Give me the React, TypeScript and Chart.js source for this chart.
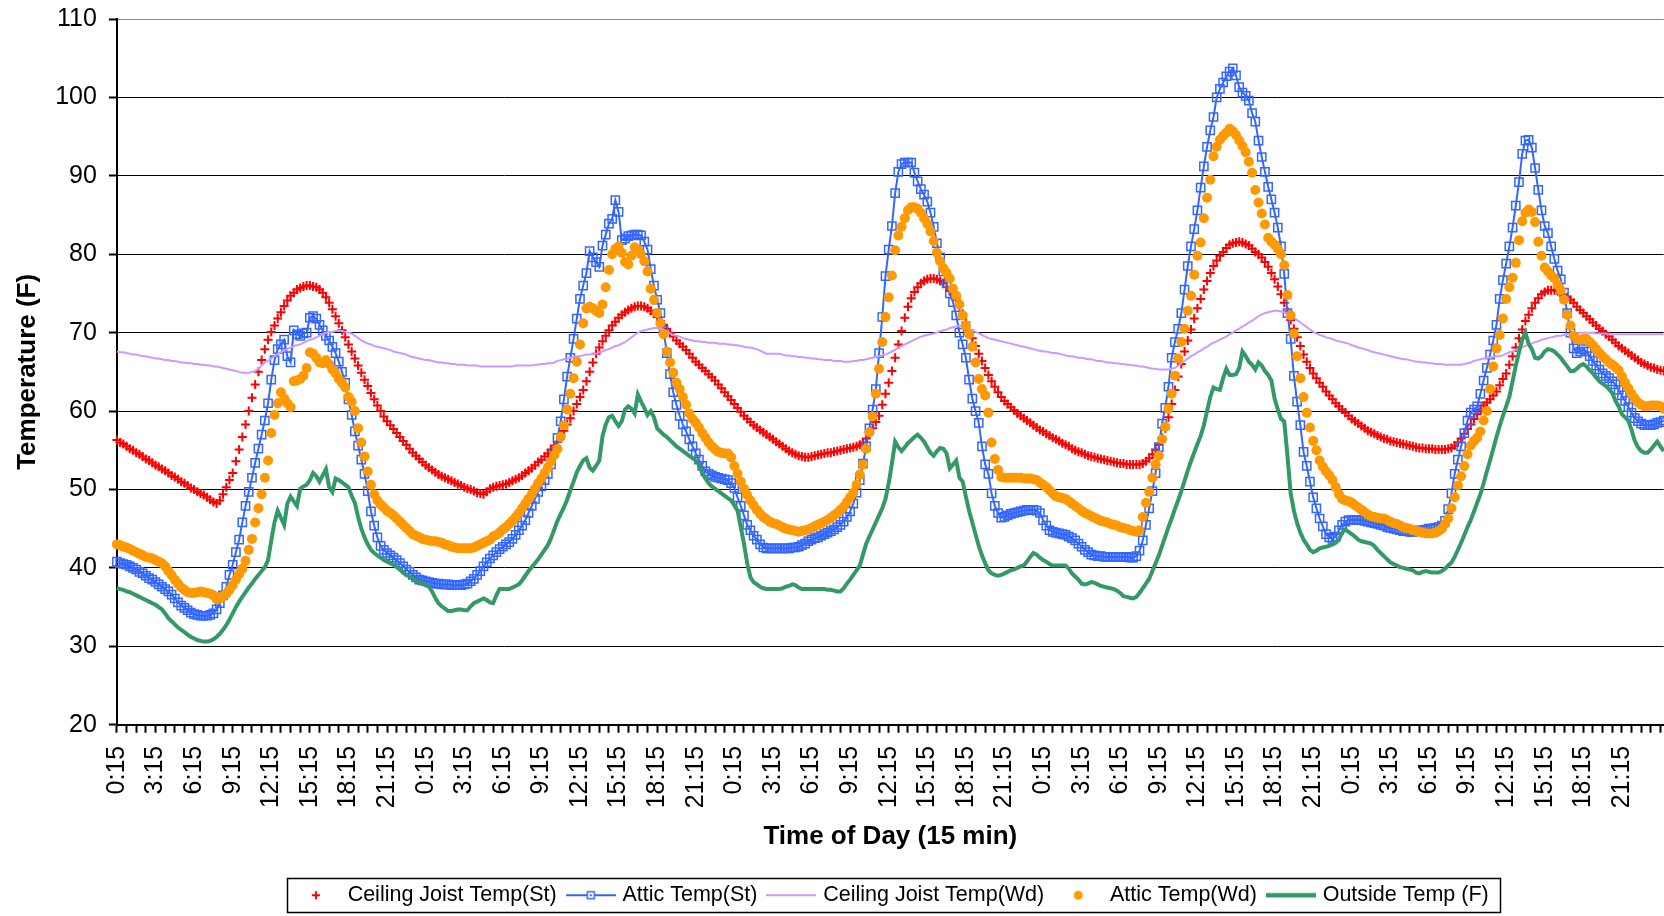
import React, { useEffect, useRef } from "react";
import { Chart, registerables } from "chart.js";

Chart.register(...registerables);

const FONT = "'Liberation Sans', Arial, Helvetica, sans-serif";

const SERIES_NAMES = [
  "Ceiling Joist Temp(St)",
  "Attic Temp(St)",
  "Ceiling Joist Temp(Wd)",
  "Attic Temp(Wd)",
  "Outside Temp (F)",
];

const TICK_LABELS = [
  "0:15", "3:15", "6:15", "9:15", "12:15", "15:15", "18:15", "21:15",
  "0:15", "3:15", "6:15", "9:15", "12:15", "15:15", "18:15", "21:15",
  "0:15", "3:15", "6:15", "9:15", "12:15", "15:15", "18:15", "21:15",
  "0:15", "3:15", "6:15", "9:15", "12:15", "15:15", "18:15", "21:15",
  "0:15", "3:15", "6:15", "9:15", "12:15", "15:15", "18:15", "21:15",
];

const CEILING_JOIST_ST = [
  56.3, 56.0, 55.8, 55.5, 55.2, 55.0, 54.7, 54.5, 54.2, 53.9, 53.7, 53.4,
  53.1, 52.9, 52.6, 52.4, 52.1, 51.8, 51.6, 51.3, 51.0, 50.8, 50.5, 50.2,
  50.0, 49.7, 49.5, 49.3, 49.0, 48.7, 48.4, 48.2, 48.6, 49.4, 50.3, 51.2,
  52.1, 53.6, 55.1, 56.7, 58.3, 60.0, 61.7, 63.4, 65.0, 66.5, 67.9, 69.1,
  70.1, 70.9, 71.8, 72.6, 73.4, 74.1, 74.7, 75.1, 75.5, 75.7, 75.9, 76.0,
  76.0, 75.9, 75.8, 75.5, 75.1, 74.5, 73.8, 73.0, 72.1, 71.2, 70.3, 69.4,
  68.5, 67.6, 66.7, 65.8, 64.9, 64.0, 63.2, 62.3, 61.5, 60.7, 60.0, 59.3,
  58.7, 58.2, 57.7, 57.2, 56.7, 56.2, 55.7, 55.2, 54.7, 54.3, 53.9, 53.5,
  53.1, 52.8, 52.5, 52.2, 51.9, 51.7, 51.5, 51.3, 51.1, 50.9, 50.7, 50.5,
  50.3, 50.1, 50.0, 49.8, 49.6, 49.5, 49.4, 49.7, 50.1, 50.3, 50.4, 50.5,
  50.6, 50.7, 50.9, 51.1, 51.3, 51.5, 51.8, 52.1, 52.4, 52.7, 53.1, 53.5,
  53.8, 54.2, 54.6, 55.1, 55.6, 56.1, 56.8, 57.5, 58.3, 59.1, 60.0, 60.9,
  61.8, 62.7, 63.8, 65.0, 66.2, 67.3, 68.1, 68.9, 69.6, 70.3, 70.9, 71.4,
  71.9, 72.3, 72.6, 72.9, 73.1, 73.3, 73.4, 73.4, 73.3, 73.1, 72.8, 72.4,
  72.0, 71.5, 71.0, 70.5, 70.0, 69.5, 69.0, 68.6, 68.2, 67.8, 67.3, 66.8,
  66.3, 65.9, 65.5, 65.1, 64.7, 64.3, 63.9, 63.4, 62.9, 62.4, 61.9, 61.4,
  60.9, 60.4, 59.9, 59.4, 59.0, 58.6, 58.2, 57.9, 57.6, 57.3, 57.0, 56.7,
  56.4, 56.1, 55.8, 55.5, 55.2, 54.9, 54.7, 54.5, 54.3, 54.2, 54.1, 54.1,
  54.2, 54.3, 54.4, 54.5, 54.6, 54.7, 54.7, 54.8, 54.9, 55.0, 55.1, 55.2,
  55.3, 55.4, 55.5, 55.7, 56.0, 56.5, 57.1, 57.8, 58.6, 59.4, 60.8, 62.2,
  63.6, 65.1, 66.8, 68.5, 70.2, 71.9, 73.3, 74.4, 75.2, 75.8, 76.3, 76.6,
  76.8, 76.9, 76.9, 76.8, 76.6, 76.3, 75.8, 75.3, 74.9, 74.2, 73.4, 72.4,
  71.3, 70.3, 69.3, 68.3, 67.3, 66.4, 65.5, 64.6, 63.8, 63.1, 62.4, 61.8,
  61.3, 60.9, 60.5, 60.1, 59.7, 59.4, 59.1, 58.8, 58.5, 58.2, 57.9, 57.6,
  57.4, 57.1, 56.9, 56.6, 56.4, 56.2, 55.9, 55.7, 55.5, 55.2, 55.0, 54.8,
  54.7, 54.5, 54.3, 54.2, 54.1, 54.0, 53.9, 53.8, 53.7, 53.6, 53.5, 53.4,
  53.3, 53.3, 53.2, 53.2, 53.2, 53.2, 53.2, 53.3, 53.6, 54.0, 54.5, 55.1,
  55.7, 56.6, 57.8, 59.2, 60.9, 62.7, 64.4, 66.0, 67.6, 69.0, 70.4, 71.8,
  73.1, 74.3, 75.5, 76.6, 77.6, 78.5, 79.2, 79.8, 80.3, 80.8, 81.2, 81.4,
  81.5, 81.6, 81.5, 81.3, 81.1, 80.7, 80.3, 80.0, 79.6, 79.0, 78.4, 77.6,
  76.8, 75.9, 74.9, 73.8, 72.7, 71.6, 70.5, 69.4, 68.3, 67.2, 66.3, 65.5,
  64.8, 64.2, 63.6, 63.1, 62.5, 62.0, 61.5, 61.0, 60.6, 60.2, 59.8, 59.4,
  59.0, 58.7, 58.4, 58.1, 57.8, 57.5, 57.3, 57.1, 56.9, 56.7, 56.5, 56.4,
  56.2, 56.1, 56.0, 55.9, 55.8, 55.7, 55.6, 55.5, 55.4, 55.3, 55.3, 55.2,
  55.2, 55.2, 55.1, 55.1, 55.1, 55.1, 55.2, 55.3, 55.6, 56.0, 56.5, 57.1,
  57.7, 58.3, 59.0, 59.6, 60.2, 60.7, 61.1, 61.5, 62.0, 62.5, 63.3, 64.1,
  64.8, 65.9, 67.0, 68.1, 69.3, 70.4, 71.5, 72.3, 73.1, 73.8, 74.4, 74.9,
  75.2, 75.4, 75.4, 75.4, 75.3, 75.1, 74.8, 74.5, 74.2, 73.8, 73.3, 72.9,
  72.5, 72.1, 71.7, 71.3, 70.9, 70.5, 70.2, 69.8, 69.5, 69.1, 68.7, 68.3,
  68.0, 67.7, 67.4, 67.1, 66.8, 66.5, 66.2, 66.0, 65.8, 65.6, 65.5, 65.3,
  65.2, 65.1,
];

const ATTIC_ST = [
  40.8, 40.6, 40.5, 40.4, 40.2, 40.0, 39.8, 39.5, 39.3, 39.0, 38.7, 38.5,
  38.2, 37.9, 37.6, 37.3, 37.0, 36.6, 36.1, 35.6, 35.2, 34.9, 34.6, 34.3,
  34.1, 34.0, 33.9, 33.9, 33.9, 34.0, 34.2, 34.7, 35.5, 36.5, 37.6, 39.1,
  40.4, 42.0, 43.6, 45.8, 47.9, 49.7, 51.5, 53.4, 55.2, 57.0, 58.8, 61.0,
  64.0, 66.5, 67.9, 68.5, 69.1, 67.0, 66.2, 70.3, 69.8, 69.6, 69.9, 70.0,
  71.9, 72.1, 71.8, 71.0, 70.3, 69.6, 69.0, 68.2, 67.4, 66.3, 65.0, 63.6,
  61.5, 59.5, 57.4, 55.6, 53.8, 52.0, 49.8, 47.2, 45.4, 43.9, 42.8, 42.3,
  41.9, 41.6, 41.3, 41.0, 40.6, 40.2, 39.8, 39.5, 39.1, 38.8, 38.5, 38.4,
  38.3, 38.2, 38.1, 38.0, 38.0, 37.9, 37.9, 37.9, 37.8, 37.8, 37.8, 37.8,
  37.9, 38.0, 38.3, 38.6, 39.1, 39.6, 40.2, 40.7, 41.2, 41.6, 42.0, 42.4,
  42.7, 43.0, 43.3, 43.7, 44.2, 44.8, 45.4, 46.1, 47.0, 47.9, 48.8, 49.7,
  50.4, 51.2, 52.0, 53.2, 54.8, 56.6, 58.7, 61.5, 64.4, 66.8, 69.2, 71.8,
  74.3, 76.0, 77.6, 80.4, 79.6, 79.0, 78.4, 81.1, 82.5, 83.9, 84.5, 86.9,
  85.4, 81.8, 82.0, 82.3, 82.4, 82.5, 82.5, 82.4, 81.6, 80.6, 78.1, 76.0,
  74.2, 72.5, 70.3, 67.4, 64.7, 62.4, 60.8, 59.4, 58.3, 57.4, 56.4, 55.5,
  54.6, 53.8, 53.0, 52.3, 52.0, 51.8, 51.6, 51.5, 51.4, 51.3, 51.2, 50.8,
  50.2, 49.0, 47.9, 46.7, 45.5, 44.8, 44.1, 43.6, 43.0, 42.6, 42.5, 42.5,
  42.5, 42.5, 42.5, 42.5, 42.5, 42.5, 42.6, 42.6, 42.7, 42.9, 43.1, 43.4,
  43.6, 43.8, 43.9, 44.1, 44.3, 44.5, 44.7, 44.9, 45.2, 45.5, 45.9, 46.5,
  47.2, 48.2, 49.6, 51.2, 53.3, 55.5, 57.8, 60.2, 62.8, 67.4, 72.0, 77.2,
  80.6, 83.6, 87.8, 90.5, 91.5, 91.7, 91.7, 91.7, 90.4, 89.3, 88.3, 87.6,
  86.7, 85.3, 83.5, 81.4, 79.6, 77.8, 76.3, 75.0, 73.9, 72.2, 70.0, 68.5,
  66.8, 64.0, 61.6, 60.0, 58.5, 55.5, 53.2, 52.0, 49.5, 47.9, 47.0, 46.4,
  46.5, 46.7, 46.9, 47.0, 47.1, 47.2, 47.3, 47.4, 47.4, 47.4, 47.3, 47.0,
  46.1, 45.4, 44.8, 44.6, 44.5, 44.4, 44.3, 44.2, 44.0, 43.8, 43.5, 43.1,
  42.7, 42.3, 42.0, 41.7, 41.6, 41.5, 41.5, 41.4, 41.4, 41.4, 41.4, 41.4,
  41.4, 41.4, 41.4, 41.3, 41.3, 41.5, 42.2, 43.5, 45.5, 47.6, 49.8, 52.1,
  55.4, 58.4, 60.4, 63.1, 66.8, 68.8, 70.5, 72.5, 75.5, 78.5, 81.0, 83.2,
  85.6, 88.5, 91.2, 93.7, 95.8, 97.5, 100.0, 101.1, 101.9, 102.7, 103.3, 103.7,
  102.8, 101.3, 100.6, 100.2, 99.6, 98.0, 96.9, 94.5, 92.4, 90.5, 88.6, 87.0,
  85.3, 83.4, 81.0, 77.5, 72.5, 69.2, 64.5, 61.2, 58.2, 54.8, 53.0, 51.0,
  49.0, 47.6, 46.3, 45.3, 44.3, 43.9, 43.7, 44.0, 44.8, 45.5, 45.9, 46.1,
  46.1, 46.1, 46.1, 46.1, 46.0, 45.9, 45.8, 45.7, 45.6, 45.5, 45.4, 45.2,
  45.1, 45.0, 44.9, 44.8, 44.7, 44.7, 44.6, 44.6, 44.7, 44.8, 44.8, 44.9,
  45.0, 45.0, 45.1, 45.2, 45.4, 46.0, 47.5, 49.5, 52.0, 53.8, 55.5, 57.2,
  58.8, 59.8, 60.2, 60.6, 62.2, 63.9, 65.5, 67.2, 69.0, 71.0, 74.3, 76.7,
  78.8, 81.0, 83.4, 86.2, 89.2, 92.8, 94.5, 94.6, 93.6, 91.0, 88.2, 85.6,
  83.6, 82.7, 81.0, 79.4, 77.9, 76.8, 75.1, 72.5, 70.0, 68.0, 67.4, 67.6,
  67.9, 67.6, 67.0, 66.4, 65.8, 65.3, 64.8, 64.5, 64.2, 63.8, 63.4, 62.7,
  62.0, 61.3, 60.5, 59.8, 59.1, 58.7, 58.4, 58.2, 58.2, 58.2, 58.3, 58.5,
  58.6, 58.8,
];

const CEILING_JOIST_WD = [
  67.6, 67.5, 67.5, 67.4, 67.3, 67.2, 67.2, 67.1, 67.0, 67.0, 66.9, 66.8,
  66.7, 66.7, 66.6, 66.5, 66.5, 66.4, 66.4, 66.3, 66.2, 66.2, 66.1, 66.1,
  66.0, 66.0, 65.9, 65.9, 65.8, 65.8, 65.7, 65.7, 65.6, 65.5, 65.4, 65.3,
  65.2, 65.1, 65.0, 64.9, 64.9, 64.9, 65.0, 65.1, 65.4, 65.8, 66.2, 66.4,
  66.7, 67.0, 67.3, 67.5, 67.7, 67.9, 68.1, 68.3, 68.4, 68.5, 68.7, 68.9,
  69.1, 69.2, 69.4, 69.6, 69.8, 70.0, 70.1, 70.1, 70.2, 70.2, 70.2, 70.1,
  70.0, 69.9, 69.6, 69.3, 69.0, 68.8, 68.6, 68.5, 68.3, 68.2, 68.1, 68.0,
  67.9, 67.8, 67.6, 67.5, 67.4, 67.3, 67.2, 67.0, 66.9, 66.8, 66.7, 66.6,
  66.5, 66.5, 66.4, 66.3, 66.2, 66.2, 66.1, 66.1, 66.0, 66.0, 65.9, 65.9,
  65.9, 65.8, 65.8, 65.8, 65.8, 65.7, 65.7, 65.7, 65.7, 65.7, 65.7, 65.7,
  65.7, 65.7, 65.7, 65.7, 65.8, 65.8, 65.8, 65.8, 65.8, 65.8, 65.9, 65.9,
  66.0, 66.0, 66.1, 66.1, 66.2, 66.4, 66.5, 66.6, 66.7, 66.8, 66.9, 67.0,
  67.0, 67.1, 67.2, 67.2, 67.3, 67.3, 67.5, 67.6, 67.8, 67.9, 68.1, 68.3,
  68.4, 68.6, 68.8, 69.1, 69.4, 69.7, 70.0, 70.2, 70.3, 70.4, 70.5, 70.6,
  70.6, 70.5, 70.4, 70.2, 69.9, 69.7, 69.6, 69.5, 69.3, 69.2, 69.1, 69.0,
  68.9, 68.9, 68.8, 68.8, 68.7, 68.7, 68.7, 68.6, 68.6, 68.6, 68.5, 68.5,
  68.4, 68.4, 68.3, 68.2, 68.1, 68.1, 68.0, 67.9, 67.7, 67.5, 67.3, 67.3,
  67.3, 67.3, 67.3, 67.2, 67.1, 67.1, 67.0, 67.0, 66.9, 66.9, 66.8, 66.8,
  66.7, 66.7, 66.6, 66.6, 66.5, 66.5, 66.5, 66.4, 66.4, 66.4, 66.3, 66.3,
  66.3, 66.4, 66.4, 66.5, 66.5, 66.6, 66.7, 66.8, 66.9, 67.0, 67.1, 67.2,
  67.4, 67.6, 67.8, 68.1, 68.3, 68.5, 68.7, 68.9, 69.1, 69.3, 69.5, 69.6,
  69.7, 69.8, 69.9, 70.0, 70.2, 70.3, 70.4, 70.6, 70.7, 70.8, 70.9, 70.8,
  70.6, 70.5, 70.3, 70.1, 69.9, 69.7, 69.5, 69.3, 69.2, 69.1, 69.0, 68.9,
  68.8, 68.7, 68.6, 68.5, 68.4, 68.3, 68.2, 68.1, 68.0, 67.9, 67.8, 67.7,
  67.6, 67.6, 67.5, 67.4, 67.4, 67.3, 67.2, 67.1, 67.0, 67.0, 66.9, 66.8,
  66.8, 66.7, 66.6, 66.6, 66.5, 66.4, 66.4, 66.3, 66.2, 66.2, 66.1, 66.1,
  66.0, 66.0, 65.9, 65.9, 65.8, 65.8, 65.7, 65.7, 65.6, 65.5, 65.4, 65.4,
  65.3, 65.3, 65.3, 65.3, 65.4, 65.5, 65.8, 66.1, 66.4, 66.7, 67.0, 67.2,
  67.5, 67.7, 68.0, 68.2, 68.5, 68.7, 68.9, 69.1, 69.3, 69.5, 69.8, 70.0,
  70.3, 70.5, 70.8, 71.0, 71.3, 71.5, 71.8, 72.1, 72.3, 72.5, 72.6, 72.7,
  72.8, 72.8, 72.7, 72.6, 72.4, 72.2, 71.9, 71.6, 71.3, 71.0, 70.7, 70.4,
  70.1, 69.9, 69.7, 69.6, 69.4, 69.3, 69.2, 69.0, 68.9, 68.8, 68.7, 68.6,
  68.4, 68.3, 68.1, 68.0, 67.9, 67.8, 67.6, 67.5, 67.4, 67.3, 67.2, 67.1,
  67.0, 66.9, 66.8, 66.7, 66.6, 66.6, 66.5, 66.4, 66.3, 66.3, 66.2, 66.2,
  66.1, 66.1, 66.0, 66.0, 66.0, 65.9, 65.9, 65.9, 65.9, 65.9, 65.9, 66.0,
  66.1, 66.2, 66.4, 66.5, 66.6, 66.7, 66.8, 66.8, 66.9, 67.0, 67.0, 67.1,
  67.3, 67.5, 67.6, 67.8, 68.0, 68.2, 68.3, 68.5, 68.6, 68.8, 68.9, 69.1,
  69.2, 69.3, 69.4, 69.5, 69.6, 69.6, 69.7, 69.8, 69.8, 69.9, 69.9, 70.0,
  70.0, 70.0, 70.0, 70.0, 69.9, 69.9, 69.9, 69.9, 69.8, 69.8, 69.8, 69.8,
  69.8, 69.8, 69.8, 69.8, 69.8, 69.8, 69.8, 69.8, 69.8, 69.8, 69.8, 69.8,
  69.8, 69.8,
];

const ATTIC_WD = [
  43.0, 42.9, 42.7, 42.6, 42.4, 42.2, 42.0, 41.8, 41.6, 41.4, 41.3, 41.2,
  41.0, 40.8, 40.6, 40.2, 39.6, 39.1, 38.5, 38.0, 37.5, 37.2, 36.9, 36.8,
  36.8, 36.9, 37.0, 36.9, 36.8, 36.7, 36.5, 36.0, 36.1, 36.4, 36.7, 37.2,
  37.8, 38.5, 39.2, 39.9, 40.9, 42.3, 43.7, 45.8, 47.6, 49.4, 51.5, 53.7,
  57.2, 59.5, 61.0, 62.4, 61.6, 61.0, 60.5, 63.8, 63.9, 64.1, 64.5, 65.5,
  67.5, 67.3, 66.8, 66.2, 66.1, 66.5, 66.0, 65.3, 64.8, 64.1, 63.6, 63.0,
  61.8, 61.2, 60.0, 57.8, 56.0, 54.2, 52.3, 50.6, 49.4, 48.6, 48.1, 47.7,
  47.3, 47.0, 46.7, 46.3, 45.9, 45.5, 45.1, 44.7, 44.3, 44.1, 43.9, 43.7,
  43.6, 43.5, 43.4, 43.4, 43.3, 43.2, 43.0, 42.9, 42.7, 42.6, 42.5, 42.5,
  42.5, 42.5, 42.5, 42.6, 42.8, 43.0, 43.2, 43.4, 43.6, 44.0, 44.2, 44.5,
  44.9, 45.2, 45.6, 46.0, 46.5, 47.0, 47.6, 48.2, 48.8, 49.4, 50.1, 50.8,
  51.4, 52.1, 52.8, 53.6, 54.4, 55.2, 56.7, 58.2, 60.2, 62.2, 64.2, 66.3,
  68.5, 71.2, 73.1, 73.3, 73.1, 72.8, 72.5, 73.6, 75.8, 78.0, 80.0, 80.7,
  81.0, 80.2, 79.0, 78.7, 79.8, 80.9, 80.6, 80.0, 79.1, 77.8, 75.6, 74.2,
  72.5, 71.2, 69.8, 67.6, 66.2, 64.9, 63.6, 62.8, 61.8, 60.8, 59.7, 59.0,
  58.5, 57.9, 57.2, 56.6, 56.0, 55.5, 55.1, 54.8, 54.7, 54.6, 54.6, 54.1,
  53.0, 52.0, 51.0, 50.1, 49.3, 48.6, 48.0, 47.4, 46.9, 46.5, 46.2, 45.9,
  45.7, 45.6, 45.4, 45.2, 45.0, 44.9, 44.8, 44.7, 44.6, 44.7, 44.8, 44.9,
  45.1, 45.3, 45.5, 45.7, 45.9, 46.1, 46.4, 46.7, 47.0, 47.4, 47.8, 48.4,
  49.0, 49.6, 50.6, 51.9, 53.2, 55.2, 57.3, 59.3, 62.2, 65.4, 68.8, 72.0,
  74.5, 77.3, 80.5, 82.4, 83.5, 84.6, 85.6, 86.0, 86.0, 85.8, 85.3, 84.6,
  83.9, 82.9, 81.7, 80.2, 79.1, 78.2, 77.6, 76.9, 75.6, 74.7, 73.6, 72.2,
  70.9, 69.8, 68.2, 66.2, 64.1, 62.8, 62.0, 59.8, 56.0, 53.9, 52.5, 51.6,
  51.5, 51.5, 51.5, 51.5, 51.5, 51.5, 51.4, 51.4, 51.4, 51.3, 51.2, 50.9,
  50.6, 50.3, 49.9, 49.5, 49.1, 49.0, 48.9, 48.8, 48.5, 48.2, 47.9, 47.6,
  47.3, 47.0, 46.8, 46.6, 46.4, 46.2, 46.0, 45.9, 45.8, 45.6, 45.5, 45.4,
  45.2, 45.1, 45.0, 44.8, 44.7, 44.6, 44.8, 46.5, 48.3, 49.7, 51.5, 53.2,
  54.3, 56.4, 58.0, 60.3, 62.2, 64.5, 66.7, 68.8, 70.5, 72.8, 74.7, 77.4,
  79.8, 81.5, 84.6, 87.2, 89.5, 92.5, 93.7, 94.6, 95.1, 95.5, 96.0, 95.7,
  95.2, 94.5, 93.8, 93.0, 91.8, 90.4, 88.2, 86.6, 85.2, 83.8, 82.1, 81.6,
  81.2, 80.7, 80.0, 78.6, 74.8, 72.2, 69.9, 67.0, 64.2, 61.8, 59.8, 57.9,
  56.2, 55.0, 53.7, 52.9, 52.3, 51.8, 51.2, 50.3, 49.4, 48.8, 48.6, 48.5,
  48.3, 48.0, 47.7, 47.4, 47.1, 46.8, 46.6, 46.5, 46.4, 46.3, 46.3, 46.1,
  45.9, 45.7, 45.6, 45.4, 45.2, 45.1, 45.0, 44.8, 44.7, 44.6, 44.5, 44.4,
  44.4, 44.4, 44.5, 44.7, 45.0, 45.6, 46.3, 47.6, 49.0, 50.5, 51.7, 53.0,
  54.5, 55.6, 56.2, 56.6, 57.4, 58.8, 60.0, 62.8, 65.7, 68.0, 69.7, 71.8,
  74.3, 75.8, 77.0, 78.9, 81.8, 84.2, 85.3, 85.7, 85.4, 84.1, 81.6, 79.8,
  78.3, 77.8, 77.3, 76.9, 76.1, 75.4, 74.2, 72.3, 70.9, 69.6, 69.2, 69.1,
  69.2, 69.2, 68.8, 68.4, 67.9, 67.4, 67.0, 66.6, 66.2, 65.9, 65.6, 65.2,
  64.4, 63.6, 62.9, 62.2, 61.6, 61.1, 60.8, 60.6, 60.6, 60.7, 60.7, 60.7,
  60.6, 60.3,
];

const OUTSIDE = [
  37.4, 37.3, 37.2, 37.0, 36.9, 36.7, 36.5, 36.3, 36.1, 35.9, 35.7, 35.5,
  35.3, 35.0, 34.7, 34.2, 33.6, 33.2, 32.8, 32.4, 32.1, 31.8, 31.5, 31.2,
  31.0, 30.8, 30.7, 30.6, 30.6, 30.7, 30.9, 31.2, 31.6, 32.1, 32.7, 33.4,
  34.2, 35.0, 35.7, 36.3, 36.9, 37.5, 38.0, 38.6, 39.1, 39.6, 40.1, 41.0,
  43.5, 45.8, 47.3, 46.4, 45.5, 48.2, 49.1, 48.5, 47.9, 50.1, 50.4, 50.6,
  51.2, 52.1, 51.7, 51.0, 51.8, 52.6, 50.3, 49.7, 51.4, 51.2, 50.9, 50.6,
  50.3, 49.2, 48.3, 46.5, 45.0, 43.9, 43.0, 42.3, 41.9, 41.6, 41.3, 41.0,
  40.8, 40.6, 40.4, 40.1, 39.8, 39.4, 39.1, 38.9, 38.7, 38.4, 38.2, 38.0,
  37.8, 37.6, 37.0, 36.2, 35.5, 35.1, 34.8, 34.5, 34.5, 34.6, 34.7, 34.7,
  34.6, 34.6, 35.1, 35.5, 35.7, 35.9, 36.1, 35.9, 35.6, 35.5, 36.5, 37.3,
  37.3, 37.3, 37.3, 37.5, 37.7, 37.9, 38.4, 39.0, 39.6, 40.1, 40.6, 41.1,
  41.7, 42.3, 42.9, 43.8, 44.9, 46.0, 46.9, 47.7, 48.7, 49.9, 51.0, 52.2,
  53.0, 53.7, 54.0, 52.8, 52.4, 53.0, 53.7, 56.8, 58.3, 59.2, 59.4, 58.7,
  58.1, 58.7, 60.2, 60.6, 60.3, 59.7, 62.1, 61.2, 60.4, 59.5, 60.0, 59.2,
  57.8, 57.4, 57.0, 56.7, 56.3, 55.9, 55.5, 55.2, 54.9, 54.6, 54.3, 54.0,
  53.7, 53.2, 52.1, 51.4, 50.8, 50.4, 50.1, 49.8, 49.5, 49.2, 48.9, 48.6,
  48.0, 47.3, 45.2, 43.1, 40.6, 38.8, 38.2, 37.9, 37.6, 37.4, 37.3, 37.3,
  37.3, 37.3, 37.3, 37.4, 37.6, 37.7, 37.9, 37.8, 37.5, 37.3, 37.3, 37.3,
  37.3, 37.3, 37.3, 37.3, 37.3, 37.2, 37.2, 37.1, 37.0, 37.0, 37.4, 38.0,
  38.5, 39.1, 39.7, 40.3, 41.7, 43.1, 44.0, 44.9, 45.8, 46.7, 47.6, 48.8,
  50.8, 53.3, 56.1, 55.4, 54.9, 55.4, 55.9, 56.3, 56.7, 57.0, 56.6, 56.1,
  55.4, 54.7, 54.3, 54.9, 55.3, 55.2, 54.6, 52.7, 53.2, 53.7, 51.5, 51.0,
  49.1, 47.3, 45.8, 44.3, 42.8, 41.6, 40.6, 39.7, 39.3, 39.1, 39.0, 39.1,
  39.3, 39.5, 39.7, 39.8, 40.0, 40.2, 40.3, 40.8, 41.4, 41.9, 41.7, 41.3,
  41.0, 40.8, 40.5, 40.3, 40.3, 40.3, 40.3, 40.3, 39.9, 39.3, 38.9, 38.5,
  38.0, 37.9, 38.0, 38.2, 38.1, 37.9, 37.7, 37.6, 37.5, 37.4, 37.3, 37.1,
  36.8, 36.4, 36.3, 36.2, 36.1, 36.3, 36.8, 37.4, 38.0, 38.6, 39.6, 40.6,
  41.6, 42.8, 44.0, 45.2, 46.3, 47.5, 48.6, 49.8, 51.1, 52.4, 53.6, 54.7,
  55.8, 56.8, 58.2, 60.0, 61.8, 63.0, 62.8, 62.7, 64.2, 65.4, 64.6, 64.6,
  64.7, 65.5, 67.6, 67.0, 66.3, 65.9, 65.3, 66.2, 65.8, 65.1, 64.6, 63.9,
  61.6, 60.2, 59.0, 58.7, 54.3, 49.5, 47.3, 45.7, 44.5, 43.6, 43.0, 42.3,
  42.0, 42.2, 42.5, 42.6, 42.7, 42.8, 43.0, 43.2, 43.6, 44.5, 44.9, 44.6,
  44.3, 44.0, 43.6, 43.4, 43.3, 43.2, 43.1, 42.8, 42.3, 41.9, 41.5, 41.1,
  40.7, 40.5, 40.3, 40.1, 40.0, 39.9, 39.8, 39.7, 39.4, 39.3, 39.5, 39.6,
  39.5, 39.4, 39.4, 39.4, 39.6, 39.9, 40.3, 40.7, 41.4, 42.3, 43.2, 44.2,
  45.2, 46.1, 47.2, 48.3, 49.4, 50.8, 52.3, 53.7, 55.2, 56.7, 58.1, 59.4,
  60.6, 61.8, 63.8, 65.8, 67.5, 69.1, 70.0, 68.6, 67.9, 66.8, 66.7, 67.0,
  67.6, 67.9, 67.8, 67.6, 67.2, 66.8, 66.2, 65.7, 65.1, 65.1, 65.4, 65.8,
  66.0, 65.7, 65.2, 64.8, 64.3, 63.8, 63.5, 63.2, 62.8, 62.3, 61.3, 60.6,
  59.6, 59.2, 58.8, 57.6, 56.2, 55.4, 54.9, 54.7, 54.7, 55.1, 55.6, 56.1,
  55.5, 54.9,
];

const RED = "#FF0000";
const BLUE = "#3366FF";
const LAVENDER = "#CC99FF";
const ORANGE = "#FF9900";
const GREEN = "#339966";

const CATEGORIES = CEILING_JOIST_ST.map((_, i) => {
  const m = 15 + 15 * i;
  const h = Math.floor(m / 60) % 24;
  const mm = m % 60;
  return `${h}:${mm < 10 ? "0" + mm : mm}`;
});

function makeMarker(kind: string): HTMLCanvasElement {
  const c = document.createElement("canvas");
  c.width = 50;
  c.height = 20;
  const g = c.getContext("2d") as CanvasRenderingContext2D;
  const cx = 25;
  const cy = 10;
  if (kind === "cross") {
    g.strokeStyle = RED;
    g.lineWidth = 2;
    g.beginPath();
    g.moveTo(cx - 4, cy);
    g.lineTo(cx + 4, cy);
    g.moveTo(cx, cy - 4);
    g.lineTo(cx, cy + 4);
    g.stroke();
  } else if (kind === "lineSquare") {
    g.strokeStyle = BLUE;
    g.lineWidth = 2;
    g.beginPath();
    g.moveTo(0, cy);
    g.lineTo(50, cy);
    g.stroke();
    g.lineWidth = 1.5;
    g.fillStyle = "#fff";
    g.fillRect(cx - 3.5, cy - 3.5, 7, 7);
    g.strokeRect(cx - 3.5, cy - 3.5, 7, 7);
    g.fillStyle = BLUE;
    g.fillRect(cx - 1, cy - 1, 2, 2);
  } else if (kind === "thinLine") {
    g.strokeStyle = LAVENDER;
    g.lineWidth = 2;
    g.beginPath();
    g.moveTo(0, cy);
    g.lineTo(50, cy);
    g.stroke();
  } else if (kind === "dot") {
    g.fillStyle = ORANGE;
    g.beginPath();
    g.arc(cx, cy, 4.5, 0, Math.PI * 2);
    g.fill();
  } else if (kind === "thickLine") {
    g.strokeStyle = GREEN;
    g.lineWidth = 4.5;
    g.beginPath();
    g.moveTo(0, cy);
    g.lineTo(50, cy);
    g.stroke();
  }
  return c;
}

const legendBoxPlugin = {
  id: "legendBox",
  afterLayout(chart: any) {
    const lg = chart.legend;
    if (!lg) return;
    const ca = chart.chartArea;
    const target = (ca.left + ca.right) / 2 + 1.5;
    const dx = target - (lg.left + lg.right) / 2;
    lg.left += dx;
    lg.right += dx;
  },
  afterDraw(chart: any) {
    const lg = chart.legend;
    if (!lg || !lg.legendHitBoxes || !lg.legendHitBoxes.length) return;
    const hb = lg.legendHitBoxes;
    const l = Math.min(...hb.map((h: any) => h.left)) - 8;
    const r = Math.max(...hb.map((h: any) => h.left + h.width)) + 11;
    const cy = hb[0].top + hb[0].height / 2;
    const ctx = chart.ctx;
    ctx.save();
    ctx.strokeStyle = "#000";
    ctx.lineWidth = 1.5;
    ctx.strokeRect(Math.round(l) + 0.5, Math.round(cy - 17) + 0.5, Math.round(r - l), 34);
    ctx.restore();
  },
};

export default function App() {
  const ref = useRef<HTMLCanvasElement | null>(null);

  useEffect(() => {
    if (!ref.current) return;
    const markers = [
      makeMarker("cross"),
      makeMarker("lineSquare"),
      makeMarker("thinLine"),
      makeMarker("dot"),
      makeMarker("thickLine"),
    ];
    const chart = new Chart(ref.current, {
      type: "line",
      data: {
        labels: CATEGORIES,
        datasets: [
          {
            label: SERIES_NAMES[0],
            data: CEILING_JOIST_ST,
            showLine: false,
            pointStyle: "cross",
            pointRadius: 4.5,
            pointBorderWidth: 2,
            pointBorderColor: RED,
            pointBackgroundColor: RED,
            borderColor: RED,
            backgroundColor: RED,
            order: 4,
          },
          {
            label: SERIES_NAMES[1],
            data: ATTIC_ST,
            borderColor: BLUE,
            borderWidth: 2,
            pointStyle: "rect",
            pointRadius: 5.8,
            pointBorderWidth: 1.5,
            pointBorderColor: BLUE,
            pointBackgroundColor: "rgba(255,255,255,0)",
            backgroundColor: BLUE,
            order: 3,
          },
          {
            label: SERIES_NAMES[2],
            data: CEILING_JOIST_WD,
            borderColor: LAVENDER,
            borderWidth: 2,
            pointRadius: 0,
            backgroundColor: LAVENDER,
            order: 2,
          },
          {
            label: SERIES_NAMES[3],
            data: ATTIC_WD,
            showLine: false,
            pointStyle: "circle",
            pointRadius: 5,
            pointBorderWidth: 0,
            pointBackgroundColor: ORANGE,
            pointBorderColor: ORANGE,
            borderColor: ORANGE,
            backgroundColor: ORANGE,
            order: 1,
          },
          {
            label: SERIES_NAMES[4],
            data: OUTSIDE,
            borderColor: GREEN,
            borderWidth: 4,
            pointRadius: 0,
            backgroundColor: GREEN,
            order: 0,
          },
        ],
      },
      options: {
        responsive: false,
        maintainAspectRatio: false,
        animation: false,
        devicePixelRatio: 1,
        layout: { padding: { top: 19, right: 0, bottom: 0, left: 0 } },
        elements: { line: { tension: 0 } },
        plugins: {
          tooltip: { enabled: false },
          title: { display: false },
          legend: {
            display: true,
            position: "bottom",
            labels: {
              usePointStyle: true,
              pointStyleWidth: 42,
              padding: 13,
              color: "#000",
              font: { family: FONT, size: 21.5 },
              generateLabels: (ch: any) =>
                ch.data.datasets.map((ds: any, i: number) => ({
                  text: ds.label,
                  pointStyle: markers[i],
                  fillStyle: "rgba(0,0,0,0)",
                  strokeStyle: "rgba(0,0,0,0)",
                  lineWidth: 0,
                  hidden: false,
                  datasetIndex: i,
                  fontColor: "#000",
                })),
            },
          },
        },
        scales: {
          x: {
            type: "category",
            offset: false,
            grid: {
              drawOnChartArea: false,
              drawTicks: true,
              tickLength: 8,
              tickWidth: 2,
              tickColor: (c: any) => (c.index % 3 === 0 ? "#000" : "rgba(0,0,0,0)"),
            },
            border: { display: true, color: "#000", width: 2 },
            ticks: {
              autoSkip: false,
              maxRotation: 90,
              minRotation: 90,
              padding: 13,
              color: "#000",
              font: { family: FONT, size: 25 },
              callback: (_v: any, i: number) =>
                i % 12 === 0 && i / 12 < TICK_LABELS.length ? TICK_LABELS[i / 12] : "",
            },
            title: {
              display: true,
              text: "Time of Day (15 min)",
              color: "#000",
              font: { family: FONT, size: 26, weight: "bold" },
              padding: { top: 0, bottom: 19 },
            },
            afterFit: (s: any) => {
              s.paddingLeft = 0;
              s.paddingRight = 0;
            },
          },
          y: {
            min: 20,
            max: 110,
            ticks: {
              stepSize: 10,
              padding: 12,
              color: "#000",
              font: { family: FONT, size: 25 },
            },
            grid: {
              color: (c: any) => (c.tick && c.tick.value === 110 ? "#888" : "#000"),
              lineWidth: 1,
              drawTicks: true,
              tickLength: 8,
              tickWidth: 2,
              tickColor: "#000",
            },
            border: { display: true, color: "#000", width: 2 },
            title: {
              display: true,
              text: "Temperature (F)",
              color: "#000",
              font: { family: FONT, size: 26, weight: "bold" },
              padding: { top: 12, bottom: 0 },
            },
            afterFit: (s: any) => {
              s.paddingTop = 0;
              s.paddingBottom = 0;
            },
          },
        },
      } as any,
      plugins: [legendBoxPlugin as any],
    });
    return () => chart.destroy();
  }, []);

  return (
    <div
      style={{
        position: "fixed",
        left: 0,
        top: 0,
        width: 1664,
        height: 916,
        overflow: "hidden",
        background: "#fff",
      }}
    >
      <canvas ref={ref} width={1671} height={916} style={{ width: 1671, height: 916, display: "block" }} />
    </div>
  );
}
